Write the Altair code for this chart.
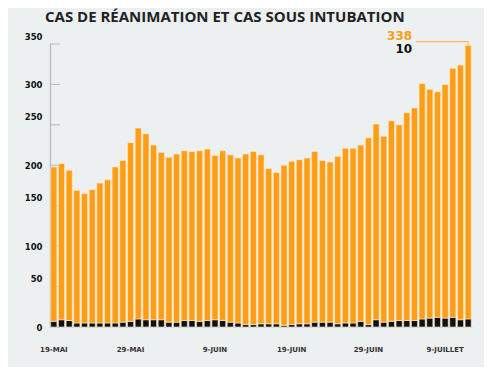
import altair as alt
import pandas as pd
from datetime import date, timedelta

# ---- data ----
start = date(2020, 5, 19)
dates = [(start + timedelta(days=i)).isoformat() for i in range(55)]

reanimation = [191, 193, 186, 164, 160, 165, 173, 177, 193, 200,
               221, 236, 230, 216, 207, 204, 208, 210, 209, 211,
               212, 203, 210, 207, 204, 211, 214, 209, 192, 187,
               198, 202, 203, 205, 211, 200, 198, 207, 216, 216,
               218, 231, 242, 230, 248, 242, 257, 263, 291, 283,
               279, 289, 308, 315, 338]
intubation = [7, 9, 8, 5, 5, 5, 5, 5, 5, 6,
              7, 10, 9, 9, 9, 6, 6, 8, 8, 7,
              8, 9, 8, 6, 5, 3, 3, 4, 4, 4,
              2, 3, 4, 4, 6, 6, 6, 4, 5, 5,
              7, 3, 9, 6, 7, 8, 8, 8, 10, 11,
              12, 11, 12, 9, 10]

tick_dates = ["2020-05-19", "2020-05-29", "2020-06-09",
              "2020-06-19", "2020-06-29", "2020-07-09"]
tick_labels = ["19-MAI", "29-MAI", "9-JUIN", "19-JUIN", "29-JUIN", "9-JUILLET"]
y_ticks = [0, 50, 100, 150, 200, 250, 300, 350]

series = ["Intubation", "Réanimation"]
colors = ["#111111", "#FF9E16"]
BG = "#EDF0F1"

rows = []
for d, r, i in zip(dates, reanimation, intubation):
    rows.append({"date": d, "serie": series[0], "v": i, "ord": 0})
    rows.append({"date": d, "serie": series[1], "v": r, "ord": 1})
df = pd.DataFrame(rows)

ann = pd.DataFrame([{
    "date": dates[-1],
    "total": reanimation[-1] + intubation[-1],
    "rea_txt": str(reanimation[-1]),
    "intu_txt": str(intubation[-1]),
}])

ticks_df = pd.DataFrame({"v": y_ticks})

label_map = "{" + ",".join(f"'{d}':'{l}'" for d, l in zip(tick_dates, tick_labels)) + "}"

x_scale = alt.Scale(domain=dates, paddingInner=0.2, paddingOuter=0.1)
y_scale = alt.Scale(domain=[0, 350], nice=False, zero=True)

x_axis = alt.Axis(
    values=tick_dates,
    labelExpr=f"{label_map}[datum.value]",
    labelAngle=0,
    ticks=False,
    domainColor="#D3D6D8",
    domainWidth=1,
    labelFont="DejaVu Sans",
    labelFontWeight="bold",
    labelFontSize=7,
    labelColor="#333333",
    labelPadding=18,
    title=None,
)
y_axis = alt.Axis(
    values=y_ticks,
    ticks=False,
    grid=False,
    domainColor="#BDBFC1",
    domainWidth=1.5,
    labelFont="DejaVu Sans",
    labelFontWeight="bold",
    labelFontSize=8.5,
    labelColor="#111111",
    labelPadding=8,
    labelOffset={"condition": {"test": "datum.value % 100 != 0", "value": -8}, "value": 0},
    title=None,
)

tick_rules = alt.Chart(ticks_df).mark_rule(color="#BDBFC1", strokeWidth=1.2).encode(
    y=alt.Y("v:Q", scale=y_scale, axis=y_axis),
    x=alt.value(0),
    x2=alt.value(10),
)

bars = alt.Chart(df).mark_bar(stroke="#FFEFCF", strokeWidth=0.6).encode(
    x=alt.X("date:O", scale=x_scale, axis=x_axis, sort=dates),
    y=alt.Y("v:Q", stack="zero", scale=y_scale, axis=y_axis),
    color=alt.Color("serie:N", scale=alt.Scale(domain=series, range=colors), legend=None),
    order=alt.Order("ord:Q", sort="ascending"),
)

base_ann = alt.Chart(ann)

txt_rea = base_ann.mark_text(
    align="right", baseline="middle", dx=-56, dy=-10,
    font="DejaVu Sans", fontWeight="bold", fontSize=12, color=colors[1]
).encode(
    x=alt.X("date:O", scale=x_scale, sort=dates),
    y=alt.Y("total:Q", scale=y_scale),
    text="rea_txt:N",
)
txt_int = base_ann.mark_text(
    align="right", baseline="middle", dx=-56, dy=3,
    font="DejaVu Sans", fontWeight="bold", fontSize=12, color="#111111"
).encode(
    x=alt.X("date:O", scale=x_scale, sort=dates),
    y=alt.Y("total:Q", scale=y_scale),
    text="intu_txt:N",
)
h_line = base_ann.mark_rule(color="#F7B04A", strokeWidth=1, xOffset=-52, yOffset=-4).encode(
    x=alt.X("date:O", scale=x_scale, sort=dates),
    x2="date:O",
    y=alt.Y("total:Q", scale=y_scale),
)
v_line = base_ann.mark_rule(color="#F7B04A", strokeWidth=1, y2Offset=-4).encode(
    x=alt.X("date:O", scale=x_scale, sort=dates),
    y=alt.Y("total:Q", scale=y_scale),
    y2="total:Q",
)

chart = alt.layer(tick_rules, bars, h_line, v_line, txt_rea, txt_int).properties(
    width=422,
    height=283,
    autosize=alt.AutoSizeParams(type="none"),
    padding={"left": 42, "top": 36, "right": 12, "bottom": 40},
    background=BG,
    title=alt.TitleParams(
        "CAS DE RÉANIMATION ET CAS SOUS INTUBATION",
        anchor="start", frame="group", dx=-5, dy=20, offset=10,
        font="Open Sans", fontWeight="bold", fontSize=15, color="#222222",
        baseline="bottom",
    ),
).configure_view(stroke=None)

chart.save("out.html", embed_options={"renderer": "svg", "actions": False})
